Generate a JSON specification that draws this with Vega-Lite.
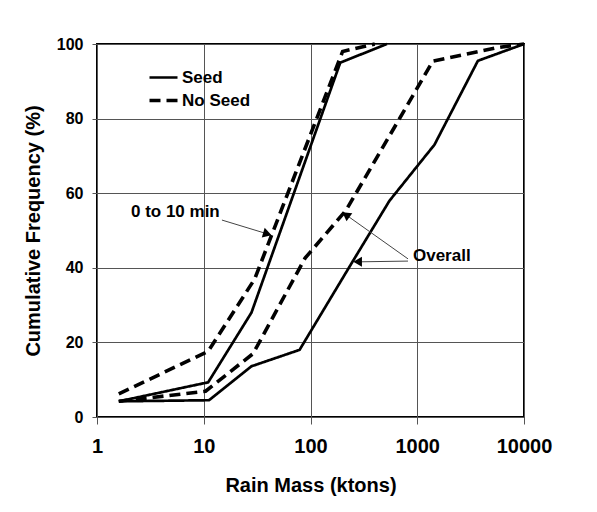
{
  "$schema": "https://vega.github.io/schema/vega-lite/v6.json",
  "width": 427,
  "height": 373,
  "autosize": {"type": "none"},
  "padding": {"left": 97, "top": 44, "right": 73, "bottom": 95},
  "background": "white",
  "config": {
    "font": "Liberation Sans",
    "view": {"stroke": "black", "strokeWidth": 2},
    "axis": {"domain": false, "gridColor": "#555", "gridWidth": 1, "gridOpacity": 1, "tickColor": "#555", "labelColor": "black", "titleColor": "black", "labelFont": "Liberation Sans", "titleFont": "Liberation Sans", "labelFontWeight": "bold", "titleFontWeight": "bold"}
  },
  "datasets": {
    "curves": [
      {"series": "Seed 0-10", "treatment": "Seed", "mass": 1.6, "freq": 4.2},
      {"series": "Seed 0-10", "treatment": "Seed", "mass": 11, "freq": 9.3},
      {"series": "Seed 0-10", "treatment": "Seed", "mass": 28, "freq": 28},
      {"series": "Seed 0-10", "treatment": "Seed", "mass": 190, "freq": 95},
      {"series": "Seed 0-10", "treatment": "Seed", "mass": 520, "freq": 100},
      {"series": "No Seed 0-10", "treatment": "No Seed", "mass": 1.6, "freq": 6.2},
      {"series": "No Seed 0-10", "treatment": "No Seed", "mass": 11, "freq": 17.6},
      {"series": "No Seed 0-10", "treatment": "No Seed", "mass": 30, "freq": 37},
      {"series": "No Seed 0-10", "treatment": "No Seed", "mass": 200, "freq": 98},
      {"series": "No Seed 0-10", "treatment": "No Seed", "mass": 400, "freq": 100},
      {"series": "Seed Overall", "treatment": "Seed", "mass": 1.6, "freq": 4.2},
      {"series": "Seed Overall", "treatment": "Seed", "mass": 11.2, "freq": 4.5},
      {"series": "Seed Overall", "treatment": "Seed", "mass": 28, "freq": 13.6},
      {"series": "Seed Overall", "treatment": "Seed", "mass": 79, "freq": 18},
      {"series": "Seed Overall", "treatment": "Seed", "mass": 240, "freq": 41},
      {"series": "Seed Overall", "treatment": "Seed", "mass": 550, "freq": 58},
      {"series": "Seed Overall", "treatment": "Seed", "mass": 1450, "freq": 73},
      {"series": "Seed Overall", "treatment": "Seed", "mass": 3700, "freq": 95.5},
      {"series": "Seed Overall", "treatment": "Seed", "mass": 10000, "freq": 100},
      {"series": "No Seed Overall", "treatment": "No Seed", "mass": 1.6, "freq": 4.2},
      {"series": "No Seed Overall", "treatment": "No Seed", "mass": 10.4, "freq": 6.9},
      {"series": "No Seed Overall", "treatment": "No Seed", "mass": 29, "freq": 17},
      {"series": "No Seed Overall", "treatment": "No Seed", "mass": 89, "freq": 42.6},
      {"series": "No Seed Overall", "treatment": "No Seed", "mass": 215, "freq": 55.4},
      {"series": "No Seed Overall", "treatment": "No Seed", "mass": 550, "freq": 75.4},
      {"series": "No Seed Overall", "treatment": "No Seed", "mass": 1400, "freq": 95.4},
      {"series": "No Seed Overall", "treatment": "No Seed", "mass": 5500, "freq": 99},
      {"series": "No Seed Overall", "treatment": "No Seed", "mass": 10000, "freq": 100}
    ],
    "labels": [
      {"label": "0 to 10 min", "mass": 2.08, "freq": 55},
      {"label": "Overall", "mass": 912, "freq": 43.2}
    ],
    "arrows": [
      {"arrow": "a", "mass": 14.8, "freq": 52.8, "mass2": 38.3, "freq2": 49.2},
      {"arrow": "b", "mass": 819, "freq": 41.8, "mass2": 285, "freq2": 41.6},
      {"arrow": "c", "mass": 819, "freq": 42.4, "mass2": 220, "freq2": 54.0}
    ]
  },
  "encoding": {
    "x": {"field": "mass", "type": "quantitative",
      "scale": {"type": "log", "domain": [1, 10000]},
      "axis": {"values": [1, 10, 100, 1000, 10000], "format": "d", "title": "Rain Mass (ktons)", "labelFontSize": 20, "titleFontSize": 20, "tickSize": 7, "labelPadding": 12, "titlePadding": 19, "labelFlush": false}},
    "y": {"field": "freq", "type": "quantitative",
      "scale": {"domain": [0, 100]},
      "axis": {"values": [0, 20, 40, 60, 80, 100], "title": "Cumulative Frequency (%)", "labelFontSize": 16, "titleFontSize": 20, "tickSize": 5, "labelPadding": 9, "titlePadding": 13}}
  },
  "layer": [
    {
      "data": {"name": "curves"},
      "mark": {"type": "line", "color": "black", "strokeCap": "butt", "strokeJoin": "miter"},
      "encoding": {
        "detail": {"field": "series"},
        "strokeDash": {"field": "treatment", "type": "nominal",
          "scale": {"domain": ["Seed", "No Seed"], "range": [[1, 0], [11, 6]]},
          "legend": {"title": null, "orient": "none", "legendX": 58, "legendY": 25, "symbolType": "M-2.8,0H2.8", "symbolSize": 100, "symbolStrokeWidth": 2.5, "symbolStrokeColor": "black", "labelFontSize": 17, "labelFontWeight": "bold", "labelFont": "Liberation Sans", "labelColor": "black", "labelOffset": 10, "rowPadding": 5}},
        "strokeWidth": {"field": "treatment", "type": "nominal",
          "scale": {"domain": ["Seed", "No Seed"], "range": [2.7, 3.6]}, "legend": null}
      }
    },
    {
      "data": {"name": "arrows"},
      "mark": {"type": "rule", "color": "#444", "strokeWidth": 1},
      "encoding": {"x2": {"field": "mass2"}, "y2": {"field": "freq2"}}
    },
    {
      "data": {"name": "arrows"},
      "transform": [{"filter": "datum.arrow == 'a'"}],
      "mark": {"type": "point", "shape": "triangle", "filled": true, "color": "black", "opacity": 1, "size": 100, "angle": 107},
      "encoding": {"x": {"field": "mass2", "type": "quantitative"}, "y": {"field": "freq2", "type": "quantitative"}}
    },
    {
      "data": {"name": "arrows"},
      "transform": [{"filter": "datum.arrow == 'b'"}],
      "mark": {"type": "point", "shape": "triangle", "filled": true, "color": "black", "opacity": 1, "size": 100, "angle": 270},
      "encoding": {"x": {"field": "mass2", "type": "quantitative"}, "y": {"field": "freq2", "type": "quantitative"}}
    },
    {
      "data": {"name": "arrows"},
      "transform": [{"filter": "datum.arrow == 'c'"}],
      "mark": {"type": "point", "shape": "triangle", "filled": true, "color": "black", "opacity": 1, "size": 100, "angle": 305},
      "encoding": {"x": {"field": "mass2", "type": "quantitative"}, "y": {"field": "freq2", "type": "quantitative"}}
    },
    {
      "data": {"name": "labels"},
      "mark": {"type": "text", "align": "left", "baseline": "middle", "fontSize": 17, "fontWeight": "bold", "font": "Liberation Sans", "color": "black"},
      "encoding": {"text": {"field": "label"}}
    }
  ]
}
